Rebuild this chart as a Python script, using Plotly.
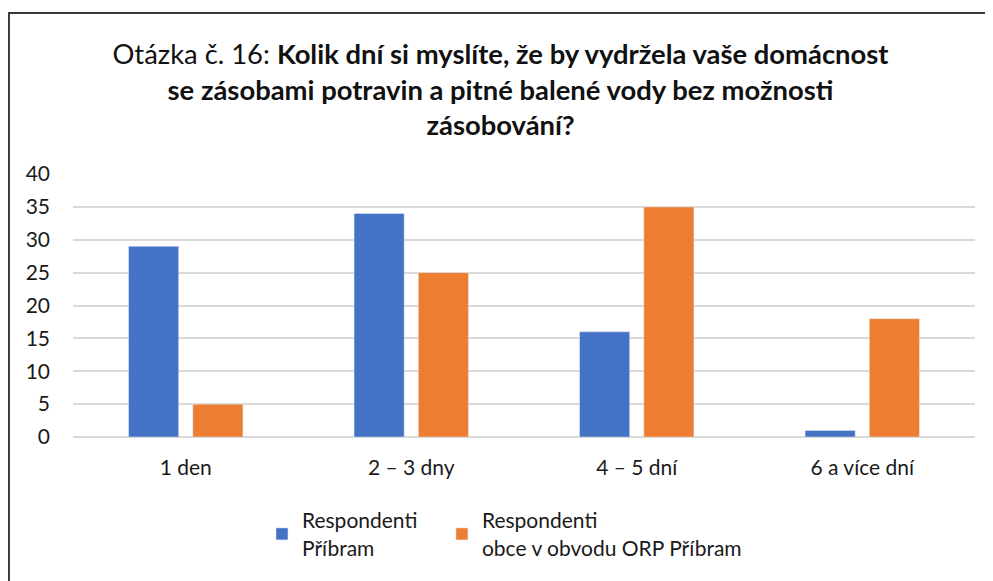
import plotly.graph_objects as go

categories = ["1 den", "2 – 3 dny", "4 – 5 dní", "6 a více dní"]
pribram = [29, 34, 16, 1]
obce = [5, 25, 35, 18]
series_names = ["Respondenti<br>Příbram", "Respondenti<br>obce v obvodu ORP Příbram"]
y_ticks = [0, 5, 10, 15, 20, 25, 30, 35, 40]

FONT = "Lato"

fig = go.Figure()
fig.add_trace(go.Bar(x=categories, y=pribram, name=series_names[0],
                     marker=dict(color="#4472C4"), legend="legend", showlegend=True))
fig.add_trace(go.Bar(x=categories, y=obce, name=series_names[1],
                     marker=dict(color="#ED7D31"), legend="legend2", showlegend=True))

legend_common = dict(orientation="h", xanchor="left", y=-0.24, yanchor="top",
                     font=dict(size=21), bgcolor="rgba(0,0,0,0)", visible=True)

fig.update_layout(
    width=985, height=573,
    showlegend=True,
    margin=dict(l=65, r=18, t=166, b=144),
    paper_bgcolor="white", plot_bgcolor="white",
    font=dict(family=FONT, size=21, color="#1a1a1a"),
    barmode="group", bargap=0.43, bargroupgap=0.22,
    title=dict(
        text="Otázka č. 16: <b>Kolik dní si myslíte, že by vydržela vaše domácnost</b><br>"
             "<b>se zásobami potravin a pitné balené vody bez možnosti</b><br><b>zásobování?</b>",
        x=0.5, xanchor="center", y=0.902, yanchor="top",
        font=dict(family=FONT, size=27.4, color="#111111"),
    ),
    xaxis=dict(showgrid=False, showline=False, ticks="", tickfont=dict(size=21),
               ticklabelstandoff=16),
    yaxis=dict(range=[0, 40], tickvals=y_ticks, showgrid=True, gridcolor="#d9d9d9",
               gridwidth=1.5, zeroline=True, zerolinecolor="#d9d9d9", zerolinewidth=1.5,
               tickfont=dict(size=21), ticklabelstandoff=22, showline=False),
    legend=dict(x=0.2095, **legend_common),
    legend2=dict(x=0.409, **legend_common),
    shapes=[dict(type="rect", xref="paper", yref="paper",
                 x0=-0.071, x1=1.2, y0=-1.0, y1=1.612,
                 line=dict(color="#3a3a3a", width=2), layer="below")],
)

fig.write_html("out.html")
